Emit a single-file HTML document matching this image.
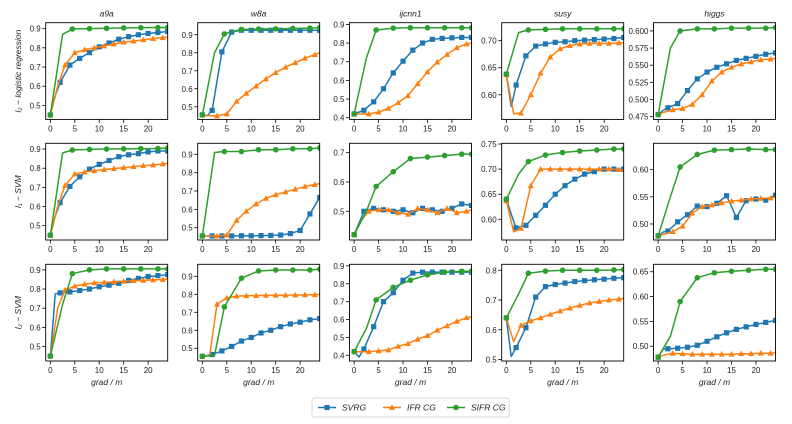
<!DOCTYPE html>
<html><head><meta charset="utf-8">
<style>
body{margin:0;background:#fff;}
svg{display:block;font-family:"Liberation Sans","DejaVu Sans",sans-serif;}
.tk{font-size:8px;fill:#222;}
.it{font-style:italic;font-size:8.5px;fill:#222;}
</style></head>
<body>
<svg id="chart" width="792" height="424" viewBox="0 0 792 424" xmlns="http://www.w3.org/2000/svg"></svg>
<script>
const datasets = ["a9a","w8a","ijcnn1","susy","higgs"];
const rowLabels = ["l\u2082 \u2212 logistic regression","l\u2081 \u2212 SVM","l\u2082 \u2212 SVM"];
const methods = ["SVRG","IFR CG","SIFR CG"];
const svrgX = [0,1,2,4,6,8,10,12,14,16,18,20,22,24];
const ifrX  = [0,1.5,3,5,7,9,11,13,15,17,19,21,23,24];
const sifrX = [0,2.5,4.5,8,11.5,15,18.5,22,24];
const xTicks = [0,5,10,15,20];
// y limits per panel [row][col]
const yLims = [
 [[0.427,0.931],[0.43,0.967],[0.391,0.909],[0.5544,0.7333],[0.471,0.612]],
 [[0.425,0.93],[0.433,0.96],[0.402,0.732],[0.5588,0.7514],[0.4705,0.6486]],
 [[0.4246,0.929],[0.429,0.967],[0.368,0.909],[0.495,0.82],[0.4703,0.665]]
];
const yTicks = [
 [[0.5,0.6,0.7,0.8,0.9],[0.5,0.6,0.7,0.8,0.9],[0.4,0.5,0.6,0.7,0.8,0.9],[0.60,0.65,0.70],[0.475,0.5,0.525,0.55,0.575,0.6]],
 [[0.5,0.6,0.7,0.8,0.9],[0.5,0.6,0.7,0.8,0.9],[0.5,0.6,0.7],[0.60,0.65,0.70,0.75],[0.50,0.55,0.60]],
 [[0.5,0.6,0.7,0.8,0.9],[0.5,0.6,0.7,0.8,0.9],[0.4,0.5,0.6,0.7,0.8,0.9],[0.5,0.6,0.7,0.8],[0.50,0.55,0.60,0.65]]
];
const yDec = [[1,1,1,2,3],[1,1,1,2,2],[1,1,1,1,2]];
// SVRG values
const svrgY = [
 [[0.45,0.55,0.62,0.71,0.745,0.775,0.805,0.825,0.845,0.858,0.868,0.875,0.88,0.885],
  [0.455,0.45,0.48,0.805,0.915,0.925,0.925,0.925,0.925,0.925,0.925,0.925,0.925,0.925],
  [0.42,0.43,0.44,0.485,0.555,0.64,0.703,0.762,0.80,0.82,0.825,0.828,0.83,0.83],
  [0.638,0.578,0.618,0.672,0.69,0.694,0.697,0.698,0.70,0.701,0.702,0.703,0.704,0.706],
  [0.478,0.484,0.488,0.494,0.513,0.53,0.54,0.547,0.552,0.557,0.56,0.563,0.566,0.568]],
 [[0.45,0.55,0.62,0.705,0.755,0.795,0.82,0.84,0.86,0.87,0.876,0.885,0.89,0.89],
  [0.455,0.455,0.455,0.455,0.455,0.456,0.456,0.457,0.458,0.46,0.468,0.485,0.575,0.665],
  [0.42,0.46,0.5,0.51,0.505,0.5,0.505,0.495,0.51,0.505,0.5,0.51,0.525,0.52],
  [0.64,0.61,0.583,0.588,0.608,0.628,0.65,0.667,0.68,0.69,0.695,0.70,0.70,0.70],
  [0.478,0.485,0.487,0.504,0.517,0.533,0.532,0.538,0.552,0.512,0.543,0.546,0.544,0.553]],
 [[0.45,0.775,0.78,0.785,0.792,0.80,0.812,0.82,0.83,0.845,0.855,0.865,0.87,0.875],
  [0.455,0.46,0.465,0.485,0.51,0.54,0.56,0.585,0.60,0.62,0.635,0.645,0.658,0.665],
  [0.42,0.39,0.435,0.56,0.70,0.75,0.82,0.86,0.865,0.865,0.865,0.865,0.865,0.865],
  [0.64,0.51,0.54,0.607,0.71,0.745,0.752,0.757,0.762,0.765,0.768,0.77,0.773,0.775],
  [0.478,0.494,0.495,0.496,0.498,0.502,0.51,0.519,0.527,0.534,0.539,0.544,0.548,0.552]]
];
// IFR CG values
const ifrY = [
 [[0.45,0.6,0.71,0.775,0.79,0.80,0.81,0.82,0.83,0.835,0.842,0.848,0.853,0.855],
  [0.455,0.45,0.45,0.46,0.53,0.575,0.615,0.655,0.69,0.72,0.745,0.77,0.79,0.80],
  [0.42,0.42,0.42,0.43,0.45,0.48,0.518,0.582,0.646,0.698,0.739,0.775,0.795,0.80],
  [0.637,0.565,0.566,0.60,0.64,0.67,0.685,0.691,0.694,0.695,0.695,0.695,0.696,0.696],
  [0.478,0.482,0.485,0.487,0.493,0.507,0.527,0.54,0.547,0.552,0.555,0.558,0.559,0.56]],
 [[0.45,0.6,0.71,0.77,0.78,0.787,0.793,0.798,0.803,0.808,0.813,0.817,0.822,0.825],
  [0.455,0.455,0.455,0.46,0.54,0.59,0.63,0.66,0.68,0.695,0.71,0.725,0.735,0.74],
  [0.42,0.47,0.5,0.505,0.505,0.495,0.49,0.51,0.505,0.495,0.51,0.495,0.5,0.505],
  [0.637,0.575,0.582,0.667,0.70,0.70,0.70,0.70,0.70,0.70,0.70,0.70,0.699,0.698],
  [0.478,0.482,0.486,0.496,0.52,0.532,0.535,0.539,0.542,0.544,0.546,0.547,0.548,0.549]],
 [[0.45,0.7,0.795,0.815,0.825,0.832,0.835,0.838,0.84,0.843,0.845,0.848,0.85,0.852],
  [0.455,0.46,0.745,0.78,0.79,0.792,0.793,0.794,0.795,0.795,0.796,0.797,0.798,0.80],
  [0.42,0.42,0.42,0.425,0.43,0.45,0.465,0.49,0.51,0.54,0.565,0.59,0.61,0.615],
  [0.64,0.56,0.615,0.63,0.64,0.652,0.663,0.673,0.682,0.69,0.695,0.70,0.703,0.705],
  [0.478,0.483,0.486,0.485,0.484,0.484,0.484,0.484,0.484,0.485,0.485,0.486,0.486,0.487]]
];
// SIFR CG values
const sifrY = [
 [[0.45,0.87,0.898,0.90,0.902,0.904,0.905,0.906,0.906],
  [0.455,0.8,0.905,0.93,0.932,0.933,0.935,0.937,0.94],
  [0.42,0.72,0.87,0.88,0.882,0.882,0.882,0.882,0.882],
  [0.638,0.715,0.72,0.721,0.722,0.722,0.722,0.722,0.722],
  [0.478,0.575,0.60,0.603,0.603,0.604,0.604,0.604,0.605]],
 [[0.45,0.88,0.895,0.898,0.9,0.901,0.902,0.903,0.905],
  [0.455,0.91,0.915,0.915,0.925,0.925,0.93,0.93,0.935],
  [0.42,0.5,0.585,0.635,0.68,0.685,0.69,0.695,0.695],
  [0.64,0.69,0.715,0.728,0.733,0.736,0.738,0.74,0.74],
  [0.478,0.55,0.605,0.628,0.636,0.637,0.638,0.637,0.637]],
 [[0.45,0.72,0.88,0.9,0.905,0.905,0.905,0.905,0.905],
  [0.455,0.46,0.73,0.89,0.93,0.935,0.935,0.935,0.94],
  [0.42,0.55,0.71,0.78,0.82,0.85,0.865,0.87,0.87],
  [0.64,0.72,0.79,0.797,0.80,0.80,0.80,0.801,0.802],
  [0.478,0.52,0.59,0.638,0.648,0.651,0.653,0.655,0.655]]
];
const colors = ["#1f77b4","#ff7f0e","#2ca02c"];
const colL = [45.7,197.7,349.5,501.7,653.5], plotW = 122, plotH = 96.7;
const rowT = [22.7,143.3,264.3];
const xMin = -0.95, xMax = 24;
const NS = "http://www.w3.org/2000/svg";
const svg = document.getElementById("chart");
function mk(tag, attrs, parent){const e=document.createElementNS(NS,tag);for(const k in attrs)e.setAttribute(k,attrs[k]);(parent||svg).appendChild(e);return e;}
function marker(g,shape,x,y,c){
  let m;
  if(shape===0) m=mk("rect",{x:x-2.6,y:y-2.6,width:5.2,height:5.2,fill:c},g);
  else if(shape===1) m=mk("polygon",{points:`${x},${y-3.2} ${x+3},${y+2.4} ${x-3},${y+2.4}`,fill:c},g);
  else m=mk("circle",{cx:x,cy:y,r:2.8,fill:c},g);
  return m;
}
const xsAll=[svrgX,ifrX,sifrX], ysAll=[svrgY,ifrY,sifrY], skip=[[1],[1,13],[1]];
for(let r=0;r<3;r++)for(let c=0;c<5;c++){
  const L=colL[c],T=rowT[r],[y0,y1]=yLims[r][c];
  const sx=v=>L+(v-xMin)/(xMax-xMin)*plotW;
  const sy=v=>T+plotH-(v-y0)/(y1-y0)*plotH;
  const g=mk("g",{});
  
  
  const cid=`clip${r}${c}`;
  const cp=mk("clipPath",{id:cid},g);mk("rect",{x:L,y:T,width:plotW,height:plotH},cp);
  const pg=mk("g",{"clip-path":`url(#${cid})`},g);
  for(let m=0;m<3;m++){
    const xs=xsAll[m],ys=ysAll[m][r][c];
    const sg=mk("g",{},pg);
    
    
    mk("polyline",{points:xs.map((x,i)=>sx(x)+","+sy(ys[i])).join(" "),fill:"none",stroke:colors[m],"stroke-width":1.5,"stroke-linejoin":"round"},sg);
    xs.forEach((x,i)=>{if(skip[m].includes(i))return;const p=marker(sg,m,sx(x),sy(ys[i]),colors[m]);
      
      });
  }
  const fr=mk("rect",{x:L,y:T,width:plotW,height:plotH,fill:"none",stroke:"#000","stroke-width":0.9},g);
  
  
  xTicks.forEach(t=>{const x=sx(t);mk("line",{x1:x,x2:x,y1:T+plotH,y2:T+plotH+3.5,stroke:"#000","stroke-width":0.8},g);
    const tx=mk("text",{x:x,y:T+plotH+12,"text-anchor":"middle",class:"tk"},g);tx.textContent=t;
    
    });
  yTicks[r][c].forEach(t=>{const y=sy(t);mk("line",{x1:L-3.5,x2:L,y1:y,y2:y,stroke:"#000","stroke-width":0.8},g);
    const ty=mk("text",{x:L-5,y:y+3,"text-anchor":"end",class:"tk"},g);ty.textContent=t.toFixed(yDec[r][c]);
    
    });
  if(r===0){const tt=mk("text",{x:L+plotW/2,y:T-6,"text-anchor":"middle",class:"it"},g);tt.textContent=datasets[c];
    
    }
  if(r===2){const xl=mk("text",{x:L+plotW/2,y:T+plotH+24,"text-anchor":"middle",class:"it"},g);xl.textContent="grad / m";
    
    }
  if(c===0){const yl=mk("text",{x:0,y:0,"text-anchor":"middle",class:"it",transform:`translate(21,${T+plotH/2}) rotate(-90)`},g);yl.textContent=rowLabels[r];
    
    }
}
// legend
const lg=mk("g",{});


mk("rect",{x:312,y:398,width:197,height:19,rx:2,fill:"#fff",stroke:"#ccc","stroke-width":0.8},lg);
const lx=[318,383,447];
methods.forEach((m,i)=>{
  const e=mk("g",{},lg);
  
  
  mk("line",{x1:lx[i],x2:lx[i]+18,y1:407.5,y2:407.5,stroke:colors[i],"stroke-width":1.5},e);
  marker(e,i,lx[i]+9,407.5,colors[i]);
  const t=mk("text",{x:lx[i]+24,y:410.5,class:"it"},e);t.textContent=m;
});
</script>
</body></html>
